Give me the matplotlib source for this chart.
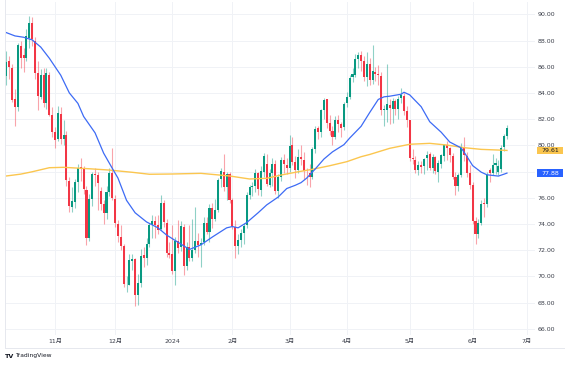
import matplotlib
matplotlib.use('Agg')
import matplotlib.pyplot as plt
from matplotlib.patches import Rectangle
from matplotlib.lines import Line2D
import matplotlib.transforms as mtransforms

# ---------------- data (daily bars, Oct 9 2023 .. Jun 19 2024) ----------------
opens = [85.30, 86.40, 85.90, 83.50, 82.90, 87.60, 86.90, 86.70, 88.20, 89.30,
         88.00, 85.50, 83.70, 85.40, 83.20, 85.40, 82.30, 81.00, 80.50, 82.40,
         80.50, 80.80, 77.30, 75.30, 75.70, 77.20, 78.30, 78.30, 76.60, 72.90,
         75.90, 77.80, 77.70, 76.50, 75.50, 74.80, 76.40, 77.90, 75.90, 74.00,
         73.00, 72.30, 69.30, 69.30, 71.20, 71.30, 68.60, 69.50, 71.60, 71.40,
         72.50, 73.90, 74.20, 73.90, 73.60, 75.60, 74.10, 71.80, 71.70, 70.40,
         72.70, 72.20, 73.80, 70.80, 72.20, 71.40, 72.00, 72.70, 72.40, 72.60,
         74.10, 73.40, 75.20, 74.40, 75.10, 77.40, 78.00, 76.80, 77.80, 75.80,
         73.80, 72.30, 72.80, 73.30, 73.90, 76.20, 76.80, 76.90, 77.90, 76.60,
         78.00, 78.60, 77.00, 77.90, 78.60, 76.50, 77.60, 78.90, 78.50, 78.30,
         80.00, 78.70, 78.10, 79.10, 78.90, 78.00, 77.90, 77.60, 79.70, 81.30,
         81.00, 82.70, 83.50, 81.70, 81.10, 80.60, 81.90, 81.60, 81.40, 83.20,
         83.70, 85.20, 85.40, 86.60, 86.90, 86.40, 85.20, 86.20, 85.00, 85.60,
         85.40, 85.30, 82.70, 82.70, 83.10, 82.80, 83.40, 82.80, 83.60, 83.80,
         82.60, 81.90, 79.00, 78.90, 78.10, 78.50, 78.40, 79.00, 79.30, 78.30,
         79.10, 78.00, 78.60, 79.20, 80.00, 79.80, 79.20, 77.60, 76.90, 77.70,
         79.90, 79.20, 77.90, 77.00, 74.20, 73.20, 74.10, 75.60, 75.50, 78.10,
         77.90, 78.50, 78.00, 78.20, 79.85, 80.70]
highs = [87.20, 86.80, 86.20, 84.30, 87.80, 88.00, 87.40, 88.90, 89.85, 89.80,
         88.30, 86.40, 85.80, 85.90, 85.90, 85.60, 82.90, 81.40, 83.00, 82.90,
         81.90, 81.10, 77.60, 76.80, 77.40, 78.60, 79.00, 78.40, 76.90, 76.30,
         78.00, 78.30, 78.00, 76.80, 75.80, 76.90, 78.30, 79.80, 76.20, 74.30,
         73.90, 72.50, 70.00, 71.70, 71.70, 71.40, 70.20, 72.10, 72.20, 72.90,
         74.10, 74.70, 74.60, 74.70, 76.20, 75.80, 74.40, 72.60, 73.90, 73.00,
         74.30, 74.20, 74.00, 72.60, 73.90, 74.40, 75.30, 73.30, 72.90, 74.50,
         74.50, 75.50, 75.60, 75.90, 77.50, 78.30, 79.30, 78.00, 78.00, 76.00,
         74.30, 73.20, 73.60, 74.10, 76.40, 77.00, 77.20, 78.20, 78.00, 78.40,
         79.40, 79.30, 78.20, 79.00, 78.90, 77.80, 79.10, 79.30, 79.00, 80.80,
         80.60, 79.20, 79.70, 80.00, 79.50, 78.30, 78.60, 79.90, 81.50, 81.50,
         82.80, 83.60, 83.50, 82.30, 81.50, 82.20, 82.30, 81.80, 83.30, 84.10,
         85.40, 85.90, 87.00, 87.10, 87.20, 86.80, 87.10, 86.70, 87.67, 86.00,
         86.10, 85.60, 83.10, 86.20, 83.50, 83.60, 83.50, 83.80, 84.40, 84.00,
         83.00, 81.90, 79.70, 79.20, 78.80, 78.80, 79.00, 79.60, 79.50, 79.30,
         79.20, 78.90, 79.30, 80.10, 80.30, 79.90, 79.40, 78.00, 77.90, 80.20,
         80.60, 79.50, 78.50, 77.20, 74.50, 74.40, 75.80, 76.00, 78.00, 78.30,
         79.30, 79.00, 78.90, 80.00, 80.90, 81.55]
lows = [84.60, 85.10, 83.30, 81.50, 82.60, 85.90, 85.60, 86.40, 87.40, 87.60,
        85.10, 82.70, 83.50, 82.90, 82.80, 82.20, 80.60, 79.80, 80.30, 80.10,
        80.00, 76.90, 74.90, 74.90, 75.20, 76.40, 77.30, 76.30, 72.40, 72.70,
        75.40, 76.90, 75.10, 75.10, 74.00, 74.40, 76.10, 75.80, 73.80, 72.60,
        72.00, 69.20, 68.80, 69.30, 70.50, 67.70, 67.80, 69.20, 70.70, 70.90,
        72.20, 72.90, 72.90, 73.20, 73.50, 73.80, 71.50, 71.40, 70.20, 69.30,
        71.80, 71.90, 70.10, 70.50, 71.20, 71.20, 71.80, 71.50, 70.70, 72.40,
        73.20, 72.60, 73.70, 74.20, 74.90, 76.80, 76.50, 75.80, 75.60, 73.60,
        71.40, 71.70, 72.20, 72.50, 73.70, 75.90, 76.10, 76.40, 76.20, 76.10,
        77.60, 76.90, 76.80, 76.90, 76.30, 76.00, 77.30, 77.90, 77.80, 78.00,
        78.50, 77.50, 77.90, 78.50, 77.40, 77.00, 76.80, 77.40, 79.40, 80.50,
        80.60, 82.00, 81.30, 80.80, 80.00, 80.50, 81.00, 80.60, 81.20, 82.90,
        83.50, 84.80, 85.20, 85.90, 85.70, 84.90, 84.50, 84.60, 84.70, 84.90,
        84.60, 82.30, 81.50, 81.80, 81.60, 81.70, 82.30, 82.00, 83.20, 82.30,
        81.40, 78.80, 78.60, 77.90, 77.70, 77.90, 77.80, 78.10, 78.10, 77.90,
        77.80, 77.20, 78.30, 78.80, 78.90, 78.70, 77.40, 76.20, 76.50, 77.60,
        78.80, 77.60, 76.70, 74.00, 72.48, 72.90, 73.90, 74.50, 75.30, 77.20,
        77.70, 77.80, 77.70, 78.00, 79.60, 80.50]
closes = [86.38, 85.97, 83.49, 82.91, 87.69, 86.66, 86.66, 88.32, 89.37, 88.08,
          85.49, 83.74, 85.39, 83.21, 85.54, 82.31, 81.02, 80.44, 82.46, 80.51,
          80.82, 77.37, 75.33, 75.74, 77.17, 78.26, 78.26, 76.66, 72.90, 75.89,
          77.83, 77.77, 77.10, 75.54, 74.86, 76.41, 77.86, 75.96, 74.07, 73.04,
          72.32, 69.38, 69.34, 71.23, 71.32, 68.61, 69.47, 71.58, 71.43, 72.47,
          73.94, 74.22, 73.89, 73.56, 75.57, 74.11, 71.77, 71.65, 70.38, 72.70,
          72.19, 73.81, 70.77, 72.24, 71.37, 72.02, 72.68, 72.40, 72.56, 74.08,
          73.41, 75.19, 74.37, 75.09, 77.36, 78.01, 76.78, 77.82, 75.85, 73.82,
          72.28, 72.78, 73.31, 73.86, 76.22, 76.84, 76.92, 77.87, 76.64, 78.03,
          79.19, 77.04, 77.91, 78.61, 76.49, 77.58, 78.87, 78.54, 78.26, 79.97,
          78.74, 78.15, 79.13, 78.93, 78.01, 77.93, 77.56, 79.72, 81.26, 81.04,
          82.72, 83.47, 81.68, 81.07, 80.63, 81.95, 81.62, 81.35, 83.17, 83.71,
          85.15, 85.43, 86.59, 86.91, 86.43, 85.23, 86.21, 85.02, 85.66, 85.41,
          85.36, 82.69, 82.73, 83.14, 82.85, 83.36, 82.81, 83.57, 83.85, 82.63,
          81.93, 79.00, 78.95, 78.11, 78.48, 78.38, 78.99, 79.26, 78.26, 79.12,
          78.02, 78.63, 79.23, 80.06, 79.80, 79.26, 77.57, 76.87, 77.72, 79.83,
          79.23, 77.91, 76.99, 74.22, 73.25, 74.07, 75.55, 75.53, 77.74, 77.90,
          78.50, 78.62, 78.40, 79.80, 80.70, 81.30]

# moving averages (bar index, value)
ma_fast_idx = [0, 3, 6, 9, 12, 15, 19, 22, 25, 27, 31, 34, 37, 39, 42, 45, 49, 53,
               56, 60, 64, 68, 72, 77, 79, 81, 84, 88, 91, 95, 98, 101, 103, 105,
               108, 111, 114, 118, 120, 124, 127, 130, 132, 134, 138, 139, 141,
               145, 148, 152, 155, 159, 161, 163, 166, 168, 172, 174, 175]
ma_fast_val = [88.60, 88.35, 88.25, 88.05, 87.50, 86.65, 85.35, 84.00, 83.20, 82.20,
               80.95, 79.40, 78.25, 77.50, 75.80, 74.85, 74.15, 73.70, 73.15, 72.60,
               72.05, 72.40, 73.00, 73.70, 73.80, 73.70, 74.10, 74.85, 75.45, 76.05,
               76.70, 76.95, 77.15, 77.50, 78.20, 78.95, 79.50, 80.05, 80.55, 81.45,
               82.50, 83.50, 83.70, 83.75, 83.90, 84.05, 83.85, 82.95, 81.80, 81.00,
               80.25, 79.80, 79.15, 78.45, 77.95, 77.75, 77.65, 77.80, 77.88]
ma_slow_idx = [0, 5, 9, 15, 20, 29, 36, 44, 50, 58, 68, 78, 85, 91, 96, 102, 107,
               113, 119, 124, 127, 134, 141, 148, 154, 160, 166, 172, 175]
ma_slow_val = [77.66, 77.80, 77.98, 78.29, 78.32, 78.21, 78.11, 77.94, 77.79, 77.81,
               77.86, 77.66, 77.43, 77.48, 77.73, 77.98, 78.17, 78.44, 78.75, 79.13,
               79.30, 79.77, 80.08, 80.15, 80.02, 79.82, 79.69, 79.64, 79.61]

tick_pos = [17, 38, 58, 79, 99, 119, 141, 163, 182]
tick_labels = ['11月', '12月', '2024', '2月', '3月', '4月', '5月', '6月', '7月']
price_ticks = [66, 68, 70, 72, 74, 76, 78, 80, 82, 84, 86, 88, 90]
hidden_price_ticks = [78]   # covered by the moving-average label in the reference

# ---------------- style ----------------
plt.rcParams['font.family'] = ['DejaVu Sans', 'Noto Sans CJK JP']
UP = '#089981'
DOWN = '#F23645'
BLUE = '#3D6BF5'
YELLOW = '#FBC64F'
TXT = '#3b3f4a'
GRID = '#f0f2f6'

W, H = 565, 365
fig = plt.figure(figsize=(W / 100, H / 100), dpi=100)
fig.patch.set_facecolor('white')
ax = fig.add_axes([5 / W, 30 / H, 530 / W, 333 / H])
ax.set_facecolor('white')

n = len(closes)
xs = list(range(n))
colors = [UP if c >= o else DOWN for o, c in zip(opens, closes)]

# wicks
ax.vlines(xs, lows, highs, colors=colors, linewidth=0.8, alpha=0.45, zorder=3)
# bodies
bottoms = [min(o, c) for o, c in zip(opens, closes)]
heights = [max(abs(c - o), 0.06) for o, c in zip(opens, closes)]
ax.bar(xs, heights, bottom=bottoms, width=0.72, color=colors, linewidth=0, zorder=4)

# moving averages
ax.plot(ma_slow_idx, ma_slow_val, color=YELLOW, linewidth=1.0, zorder=5,
        solid_joinstyle='round')
ax.plot(ma_fast_idx, ma_fast_val, color=BLUE, linewidth=0.9, zorder=6,
        solid_joinstyle='round')

ax.set_xlim(-0.49, 184.8)
ax.set_ylim(65.52, 90.94)

ax.set_yticks(price_ticks)
ax.set_yticklabels(['' if p in hidden_price_ticks else f'{p:.2f}' for p in price_ticks])
ax.yaxis.tick_right()
ax.set_xticks(tick_pos)
ax.set_xticklabels(tick_labels)
ax.tick_params(axis='y', length=0, pad=1.6, labelsize=4.5, colors=TXT)
ax.tick_params(axis='x', length=0, pad=3.0, labelsize=4.5, colors=TXT)
ax.grid(True, color=GRID, linewidth=0.7, zorder=0)
ax.set_axisbelow(True)
for s in ax.spines.values():
    s.set_visible(False)

# price labels for the moving averages
trans = mtransforms.blended_transform_factory(ax.transAxes, ax.transData)
box_h = 7.8 / 13.1
for val, fc, tc in [(ma_slow_val[-1], YELLOW, '#131722'), (ma_fast_val[-1], '#2962FF', 'white')]:
    ax.add_patch(Rectangle((532 / 530, val - box_h / 2), 26 / 530, box_h,
                           transform=trans, facecolor=fc, edgecolor='none',
                           clip_on=False, zorder=10))
    ax.text(545 / 530, val, f'{val:.2f}', transform=trans, ha='center', va='center',
            fontsize=4.5, color=tc, zorder=11, clip_on=False)

# frame lines of the widget
fig.add_artist(Line2D([5 / W, 5 / W], [1 - 348 / H, 1.0], transform=fig.transFigure,
                      color='#e6e8ee', linewidth=0.7))
fig.add_artist(Line2D([5 / W, 1.0], [1 - 348 / H, 1 - 348 / H], transform=fig.transFigure,
                      color='#e6e8ee', linewidth=0.7))

# TradingView logo
fig.text(5 / W, 1 - 356 / H, 'TV', fontsize=4.6, fontweight='bold', color='#131722',
         ha='left', va='center')
fig.text(15 / W, 1 - 356 / H, 'TradingView', fontsize=4.3, color='#131722',
         ha='left', va='center')

fig.savefig('out.png', dpi=100, facecolor='white')
